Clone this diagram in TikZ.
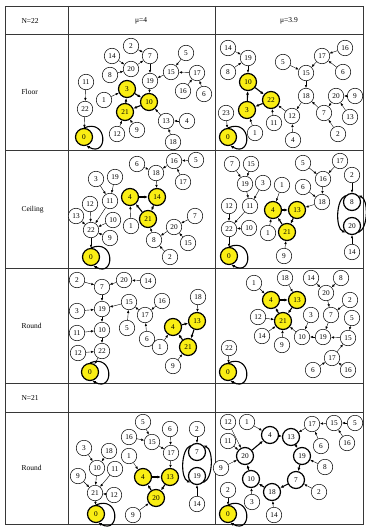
\documentclass[tikz,border=0pt]{standalone}
\usepackage{fontspec}
\setmainfont{Liberation Serif}
\usetikzlibrary{arrows.meta}
\definecolor{nodey}{RGB}{250,238,20}
\definecolor{rulec}{RGB}{55,55,55}
\newcommand\selfloop[1]{\draw[c] (#1.north) .. controls +(24,-10) and +(22,12) .. (#1.-75);}
\newcommand\twoloop[2]{%
  \draw[c] (#1.north west) .. controls +(-10,4) and +(-10,-4) .. (#2.south west);
  \draw[c] (#2.south east) .. controls +(10,-4) and +(10,4) .. (#1.north east);}
\begin{document}
\begin{tikzpicture}[x=1pt,y=-1pt,
  nd/.style={circle,draw,line width=0.5pt,minimum size=15.5pt,inner sep=0pt,fill=white,font=\fontsize{7.3}{7.3}\selectfont},
  yl/.style={nd,fill=nodey,line width=1.2pt,minimum size=17pt},
  ck/.style={nd,line width=1.2pt,minimum size=17pt},
  e/.style={-{Latex[length=3pt,width=2.4pt]},line width=0.4pt},
  c/.style={-{Latex[length=3.5pt,width=3pt]},line width=1.1pt},
  lbl/.style={anchor=west,font=\fontsize{7.5}{8}\selectfont},
  hdr/.style={font=\fontsize{7.5}{8}\selectfont},
  grid/.style={draw=rulec,line width=0.8pt}]
\fill[white] (0,0) rectangle (366,527);
\useasboundingbox (0,0) rectangle (366,527);
% table
\draw[grid] (5,6) rectangle (363,524);
\foreach \yy in {34,150,268,383,412} \draw[grid] (5,\yy) -- (363,\yy);
\draw[grid] (68,6) -- (68,524);
\draw[grid] (215,6) -- (215,524);
% labels
\node[lbl] (tN22) at (18,21) {N=22};
\node[hdr] (tm4) at (141,21) {μ=4};
\node[hdr] (tm39) at (289,21) {μ=3.9};
\node[lbl] (tFl) at (18,92) {Floor};
\node[lbl] (tCe) at (18,210) {Ceiling};
\node[lbl] (tR1) at (18,326) {Round};
\node[lbl] (tN21) at (18,398) {N=21};
\node[lbl] (tR2) at (18,468) {Round};

% ---------- cell a: Floor mu=4
\node[nd] (a11) at (86,82) {11};
\node[nd] (a22) at (85,109) {22};
\node[yl] (a0) at (84,137) {0};
\node[nd] (a1) at (104,100) {1};
\node[yl] (a3) at (127,89) {3};
\node[yl] (a21) at (125,112) {21};
\node[yl] (a10) at (149,102) {10};
\node[nd] (a12) at (117,134) {12};
\node[nd] (a9) at (137,130) {9};
\node[nd] (a14) at (112,56) {14};
\node[nd] (a2) at (131,46) {2};
\node[nd] (a7) at (150,56) {7};
\node[nd] (a20) at (131,69) {20};
\node[nd] (a8) at (110,75) {8};
\node[nd] (a19) at (150,81) {19};
\node[nd] (a15) at (171,72) {15};
\node[nd] (a5) at (186,53) {5};
\node[nd] (a17) at (197,73) {17};
\node[nd] (a16) at (183,91) {16};
\node[nd] (a6) at (204,94) {6};
\node[nd] (a13) at (166,121) {13};
\node[nd] (a4) at (187,121) {4};
\node[nd] (a18) at (173,142) {18};
\draw[e] (a11) -- (a22); \draw[e] (a22) -- (a0); \selfloop{a0}
\draw[e] (a1) -- (a3);
\draw[c] (a3) -- (a10); \draw[c] (a10) -- (a21); \draw[c] (a21) -- (a3);
\draw[e] (a12) -- (a21); \draw[e] (a9) -- (a21);
\draw[e] (a19) -- (a10); \draw[e] (a7) -- (a19); \draw[e] (a2) -- (a7);
\draw[e] (a20) -- (a7); \draw[e] (a14) -- (a20); \draw[e] (a8) -- (a20);
\draw[e] (a15) -- (a19); \draw[e] (a5) -- (a15); \draw[e] (a17) -- (a15);
\draw[e] (a16) -- (a17); \draw[e] (a6) -- (a17);
\draw[e] (a13) -- (a10); \draw[e] (a4) -- (a13); \draw[e] (a18) -- (a13);

% ---------- cell b: Floor mu=3.9
\node[nd] (b14) at (228,48) {14};
\node[nd] (b19) at (248,58) {19};
\node[nd] (b8) at (228,72) {8};
\node[yl] (b10) at (248,82) {10};
\node[yl] (b22) at (271,100) {22};
\node[yl] (b3) at (247,110) {3};
\node[nd] (b23) at (226,113) {23};
\node[yl] (b0) at (228,137) {0};
\node[nd] (b11) at (274,123) {11};
\node[nd] (b1) at (255,133) {1};
\node[nd] (b12) at (292,116) {12};
\node[nd] (b4) at (293,140) {4};
\node[nd] (b5) at (283,62) {5};
\node[nd] (b15) at (306,73) {15};
\node[nd] (b17) at (322,56) {17};
\node[nd] (b16) at (345,48) {16};
\node[nd] (b6) at (343,72) {6};
\node[nd] (b18) at (306,96) {18};
\node[nd] (b20) at (336,96) {20};
\node[nd] (b9) at (355,96) {9};
\node[nd] (b7) at (324,113) {7};
\node[nd] (b13) at (350,117) {13};
\node[nd] (b2) at (338,134) {2};
\draw[e] (b14) -- (b19); \draw[e] (b8) -- (b19); \draw[e] (b19) -- (b10);
\draw[c] (b10) -- (b22); \draw[c] (b22) -- (b3); \draw[c] (b3) -- (b10);
\draw[e] (b23) -- (b0); \selfloop{b0}
\draw[e] (b1) -- (b3); \draw[e] (b11) -- (b22); \draw[e] (b12) -- (b22);
\draw[e] (b4) -- (b12); \draw[e] (b18) -- (b12); \draw[e] (b15) -- (b18);
\draw[e] (b5) -- (b15); \draw[e] (b17) -- (b15); \draw[e] (b16) -- (b17); \draw[e] (b6) -- (b17);
\draw[e] (b7) -- (b18); \draw[e] (b20) -- (b7); \draw[e] (b9) -- (b20);
\draw[e] (b13) -- (b20); \draw[e] (b2) -- (b7);

% ---------- cell c: Ceiling mu=4
\node[nd] (c3) at (96,179) {3};
\node[nd] (c19) at (115,177) {19};
\node[nd] (c12) at (90,204) {12};
\node[nd] (c11) at (110,201) {11};
\node[nd] (c13) at (76,216) {13};
\node[nd] (c22) at (91,230) {22};
\node[nd] (c10) at (113,220) {10};
\node[nd] (c9) at (110,238) {9};
\node[yl] (c0) at (91,257) {0};
\node[nd] (c1) at (131,226) {1};
\node[yl] (c4) at (130,197) {4};
\node[yl] (c14) at (157,197) {14};
\node[yl] (c21) at (148,219) {21};
\node[nd] (c6) at (137,164) {6};
\node[nd] (c18) at (156,173) {18};
\node[nd] (c16) at (174,161) {16};
\node[nd] (c5) at (196,160) {5};
\node[nd] (c17) at (183,182) {17};
\node[nd] (c20) at (174,227) {20};
\node[nd] (c7) at (195,216) {7};
\node[nd] (c15) at (188,243) {15};
\node[nd] (c8) at (154,240) {8};
\node[nd] (c2) at (170,257) {2};
\draw[e] (c3) -- (c11); \draw[e] (c19) -- (c11); \draw[e] (c11) -- (c22);
\draw[e] (c12) -- (c22); \draw[e] (c13) -- (c22); \draw[e] (c10) -- (c22); \draw[e] (c9) -- (c22);
\draw[e] (c22) -- (c0); \selfloop{c0}
\draw[e] (c1) -- (c4);
\draw[c] (c4) -- (c14); \draw[c] (c14) -- (c21); \draw[c] (c21) -- (c4);
\draw[e] (c18) -- (c14); \draw[e] (c6) -- (c18); \draw[e] (c16) -- (c18);
\draw[e] (c5) -- (c16); \draw[e] (c17) -- (c16);
\draw[e] (c8) -- (c21); \draw[e] (c20) -- (c8); \draw[e] (c2) -- (c8);
\draw[e] (c7) -- (c20); \draw[e] (c15) -- (c20);

% ---------- cell d: Ceiling mu=3.9
\node[nd] (d7) at (232,164) {7};
\node[nd] (d15) at (251,164) {15};
\node[nd] (d19) at (245,184) {19};
\node[nd] (d3) at (263,183) {3};
\node[nd] (d12) at (229,206) {12};
\node[nd] (d11) at (250,206) {11};
\node[nd] (d22) at (229,229) {22};
\node[nd] (d10) at (249,228) {10};
\node[yl] (d0) at (229,256) {0};
\node[nd] (d1a) at (282,185) {1};
\node[yl] (d4) at (273,210) {4};
\node[yl] (d13) at (297,210) {13};
\node[nd] (d6) at (303,187) {6};
\node[nd] (d18) at (322,202) {18};
\node[nd] (d1b) at (268,233) {1};
\node[yl] (d21) at (287,232) {21};
\node[nd] (d9) at (284,256) {9};
\node[nd] (d5) at (303,163) {5};
\node[nd] (d16) at (323,179) {16};
\node[nd] (d17) at (340,161) {17};
\node[nd] (d2) at (352,175) {2};
\node[ck] (d8) at (352,202) {8};
\node[ck] (d20) at (352,226) {20};
\node[nd] (d14) at (352,252) {14};
\draw[e] (d7) -- (d19); \draw[e] (d15) -- (d19); \draw[e] (d19) -- (d11); \draw[e] (d3) -- (d11);
\draw[e] (d11) -- (d22); \draw[e] (d12) -- (d22); \draw[e] (d10) -- (d22);
\draw[e] (d22) -- (d0); \selfloop{d0}
\draw[e] (d1a) -- (d4); \draw[e] (d1b) -- (d4);
\draw[c] (d4) -- (d13); \draw[c] (d13) -- (d21); \draw[c] (d21) -- (d4);
\draw[e] (d18) -- (d13); \draw[e] (d6) -- (d18); \draw[e] (d16) -- (d18);
\draw[e] (d5) -- (d16); \draw[e] (d17) -- (d16); \draw[e] (d9) -- (d21);
\draw[e] (d2) -- (d8);
\twoloop{d8}{d20}
\draw[e] (d14) -- (d20);

% ---------- cell e: Round mu=4
\node[nd] (e2) at (77,280) {2};
\node[nd] (e7) at (102,287) {7};
\node[nd] (e20) at (124,280) {20};
\node[nd] (e14) at (148,281) {14};
\node[nd] (e19) at (102,309) {19};
\node[nd] (e15) at (129,302) {15};
\node[nd] (e16) at (162,301) {16};
\node[nd] (e17) at (145,315) {17};
\node[nd] (e5) at (127,328) {5};
\node[nd] (e3) at (77,311) {3};
\node[nd] (e10) at (102,330) {10};
\node[nd] (e11) at (77,333) {11};
\node[nd] (e12) at (78,353) {12};
\node[nd] (e6) at (147,339) {6};
\node[nd] (e22) at (102,351) {22};
\node[yl] (e0) at (90,372) {0};
\node[nd] (e18) at (198,297) {18};
\node[yl] (e13) at (197,321) {13};
\node[yl] (e4) at (173,327) {4};
\node[yl] (e21) at (188,347) {21};
\node[nd] (e1) at (160,347) {1};
\node[nd] (e9) at (173,366) {9};
\draw[e] (e2) -- (e7); \draw[e] (e14) -- (e20); \draw[e] (e20) -- (e7);
\draw[e] (e7) -- (e19); \draw[e] (e3) -- (e19); \draw[e] (e15) -- (e19);
\draw[e] (e5) -- (e15); \draw[e] (e17) -- (e15); \draw[e] (e16) -- (e17); \draw[e] (e6) -- (e17);
\draw[e] (e19) -- (e10); \draw[e] (e11) -- (e10); \draw[e] (e10) -- (e22); \draw[e] (e12) -- (e22);
\draw[e] (e22) -- (e0); \selfloop{e0}
\draw[e] (e18) -- (e13);
\draw[c] (e4) -- (e13); \draw[c] (e13) -- (e21); \draw[c] (e21) -- (e4);
\draw[e] (e1) -- (e4); \draw[e] (e9) -- (e21);

% ---------- cell f: Round mu=3.9
\node[nd] (f1) at (254,283) {1};
\node[nd] (f18) at (285,278) {18};
\node[nd] (f14a) at (311,278) {14};
\node[nd] (f8) at (341,278) {8};
\node[yl] (f4) at (271,300) {4};
\node[yl] (f13) at (297,300) {13};
\node[nd] (f20) at (326,293) {20};
\node[nd] (f2) at (350,300) {2};
\node[nd] (f12) at (258,317) {12};
\node[yl] (f21) at (283,321) {21};
\node[nd] (f3) at (311,315) {3};
\node[nd] (f7) at (331,315) {7};
\node[nd] (f5) at (352,318) {5};
\node[nd] (f14b) at (262,336) {14};
\node[nd] (f10) at (302,337) {10};
\node[nd] (f19) at (323,337) {19};
\node[nd] (f15) at (348,338) {15};
\node[nd] (f9) at (282,345) {9};
\node[nd] (f22) at (229,348) {22};
\node[yl] (f0) at (228,372) {0};
\node[nd] (f17) at (332,358) {17};
\node[nd] (f6) at (313,370) {6};
\node[nd] (f16) at (348,370) {16};
\draw[e] (f1) -- (f4); \draw[e] (f18) -- (f13);
\draw[c] (f4) -- (f13); \draw[c] (f13) -- (f21); \draw[c] (f21) -- (f4);
\draw[e] (f12) -- (f21); \draw[e] (f14b) -- (f21); \draw[e] (f9) -- (f21); \draw[e] (f10) -- (f21);
\draw[e] (f3) -- (f10); \draw[e] (f19) -- (f10); \draw[e] (f7) -- (f19); \draw[e] (f15) -- (f19);
\draw[e] (f5) -- (f15); \draw[e] (f17) -- (f15); \draw[e] (f6) -- (f17); \draw[e] (f16) -- (f17);
\draw[e] (f20) -- (f7); \draw[e] (f14a) -- (f20); \draw[e] (f8) -- (f20); \draw[e] (f2) -- (f7);
\draw[e] (f22) -- (f0); \selfloop{f0}

% ---------- cell g: N=21 Round mu=4
\node[nd] (g5) at (143,422) {5};
\node[nd] (g6) at (170,429) {6};
\node[nd] (g2) at (197,429) {2};
\node[nd] (g16) at (129,437) {16};
\node[nd] (g15) at (152,442) {15};
\node[nd] (g1) at (129,456) {1};
\node[nd] (g17) at (171,453) {17};
\node[ck] (g7) at (197,452) {7};
\node[nd] (g3) at (84,448) {3};
\node[nd] (g18) at (109,451) {18};
\node[nd] (g9a) at (78,476) {9};
\node[nd] (g10) at (97,468) {10};
\node[nd] (g11) at (115,469) {11};
\node[yl] (g4) at (143,477) {4};
\node[yl] (g13) at (170,477) {13};
\node[ck] (g19) at (197,476) {19};
\node[nd] (g21) at (95,493) {21};
\node[nd] (g12) at (114,495) {12};
\node[yl] (g20) at (156,498) {20};
\node[nd] (g14) at (197,504) {14};
\node[nd] (g9b) at (133,515) {9};
\node[yl] (g0) at (96,514) {0};
\draw[e] (g3) -- (g10); \draw[e] (g18) -- (g10); \draw[e] (g10) -- (g21);
\draw[e] (g9a) -- (g21); \draw[e] (g11) -- (g21); \draw[e] (g12) -- (g21);
\draw[e] (g21) -- (g0); \selfloop{g0}
\draw[e] (g5) -- (g15); \draw[e] (g16) -- (g15); \draw[e] (g15) -- (g17); \draw[e] (g6) -- (g17);
\draw[e] (g17) -- (g13); \draw[e] (g1) -- (g4);
\draw[c] (g4) -- (g13); \draw[c] (g13) -- (g20); \draw[c] (g20) -- (g4);
\draw[e] (g9b) -- (g20); \draw[e] (g2) -- (g7);
\twoloop{g7}{g19}
\draw[e] (g14) -- (g19);

% ---------- cell h: N=21 Round mu=3.9
\node[nd] (h12) at (228,422) {12};
\node[nd] (h1) at (247,422) {1};
\node[nd] (h17) at (312,424) {17};
\node[nd] (h15) at (334,423) {15};
\node[nd] (h5) at (355,423) {5};
\node[ck] (h4) at (270,435) {4};
\node[ck] (h13) at (291,437) {13};
\node[nd] (h11) at (228,441) {11};
\node[nd] (h6) at (321,446) {6};
\node[nd] (h16) at (347,443) {16};
\node[ck] (h20) at (245,456) {20};
\node[ck] (h19) at (302,456) {19};
\node[nd] (h8) at (325,467) {8};
\node[nd] (h9) at (221,468) {9};
\node[ck] (h10) at (251,479) {10};
\node[ck] (h7) at (296,480) {7};
\node[nd] (h2a) at (228,490) {2};
\node[ck] (h18) at (272,492) {18};
\node[nd] (h2b) at (319,492) {2};
\node[nd] (h3) at (252,502) {3};
\node[yl] (h0) at (228,514) {0};
\node[nd] (h14) at (274,515) {14};
\draw[c] (h20) -- (h4); \draw[c] (h4) -- (h13); \draw[c] (h13) -- (h19); \draw[c] (h19) -- (h7);
\draw[c] (h7) -- (h18); \draw[c] (h18) -- (h10); \draw[c] (h10) -- (h20);
\draw[e] (h12) -- (h20); \draw[e] (h11) -- (h20); \draw[e] (h9) -- (h20); \draw[e] (h1) -- (h4);
\draw[e] (h17) -- (h13); \draw[e] (h15) -- (h17); \draw[e] (h5) -- (h15); \draw[e] (h16) -- (h15);
\draw[e] (h6) -- (h17); \draw[e] (h8) -- (h19); \draw[e] (h2b) -- (h7); \draw[e] (h3) -- (h10);
\draw[e] (h14) -- (h18); \draw[e] (h2a) -- (h0); \selfloop{h0}
\end{tikzpicture}
\end{document}
